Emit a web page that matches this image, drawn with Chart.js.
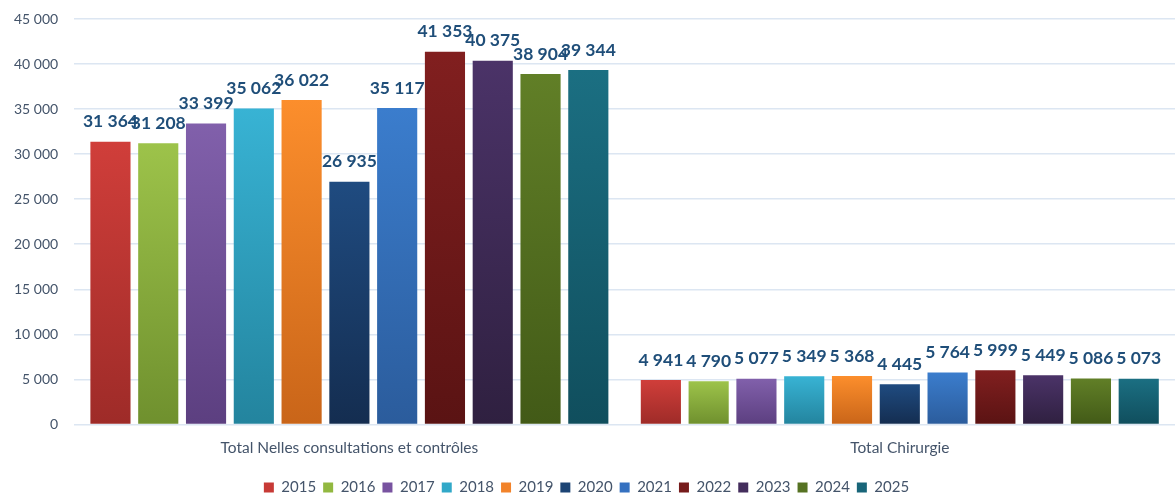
<!DOCTYPE html>
<html>
<head>
<meta charset="utf-8">
<script src="https://cdn.jsdelivr.net/npm/chart.js@4/dist/chart.umd.min.js"></script>
<style>
html,body{margin:0;padding:0;background:#fff;}
#wrap{width:1175px;height:495px;position:relative;}
</style>
</head>
<body>
<div id="wrap"><canvas id="c" width="1175" height="495"></canvas></div>
<script>
const categories = ["Total Nelles consultations et contrôles", "Total Chirurgie"];
const years = ["2015","2016","2017","2018","2019","2020","2021","2022","2023","2024","2025"];
const v2015 = [31364, 4941];
const v2016 = [31208, 4790];
const v2017 = [33399, 5077];
const v2018 = [35062, 5349];
const v2019 = [36022, 5368];
const v2020 = [26935, 4445];
const v2021 = [35117, 5764];
const v2022 = [41353, 5999];
const v2023 = [40375, 5449];
const v2024 = [38904, 5086];
const v2025 = [39344, 5073];
const yTicks = [0,5000,10000,15000,20000,25000,30000,35000,40000,45000];

const seriesValues = [v2015,v2016,v2017,v2018,v2019,v2020,v2021,v2022,v2023,v2024,v2025];
const topColors = ["#D03E3A","#9DC34A","#8160AB","#38B3D4","#FC8E2C","#1F4B80","#3B7DCD","#811F1F","#4B3368","#617F27","#1B6F82"];
const bottomColors = ["#9E2B28","#6F902E","#5C3F80","#23849E","#C96519","#142D50","#2B5C9C","#5A1313","#2F2040","#425A17","#104E5D"];
const legendColors = ["#C73A36","#92B840","#7853A0","#31A8C8","#F2832A","#1C4474","#3571C0","#761B1B","#432D5C","#567222","#186579"];

function fmt(v){ return String(v).replace(/\B(?=(\d{3})+(?!\d))/g, " "); }

const datasets = years.map((y,i)=>({
  label: y,
  data: seriesValues[i],
  backgroundColor: (ctx)=>{
    const chart = ctx.chart;
    if(!chart.chartArea || ctx.type !== 'data') return topColors[i];
    const ys = chart.scales.y;
    const top = ys.getPixelForValue(ctx.raw);
    const base = ys.getPixelForValue(0);
    const g = chart.ctx.createLinearGradient(0, top, 0, base);
    g.addColorStop(0, topColors[i]);
    g.addColorStop(1, bottomColors[i]);
    return g;
  },
  borderWidth: 0,
  categoryPercentage: 0.955,
  barPercentage: 0.84
}));

const labelPlugin = {
  id: 'valueLabels',
  afterDatasetsDraw(chart){
    const c = chart.ctx;
    c.save();
    c.font = "bold 17.5px Lato";
    c.fillStyle = "#1F4E79";
    c.textAlign = "center";
    c.textBaseline = "middle";
    chart.data.datasets.forEach((ds, di)=>{
      const meta = chart.getDatasetMeta(di);
      meta.data.forEach((bar, idx)=>{
        c.fillText(fmt(ds.data[idx]), bar.x, bar.y - 20);
      });
    });
    c.restore();
  }
};

const legendShift = {
  id: 'legendShift',
  afterLayout(chart){
    if(chart.legend){ chart.legend.top += 10; chart.legend.bottom += 10; }
  }
};

new Chart(document.getElementById('c'), {
  type: 'bar',
  data: { labels: categories, datasets },
  options: {
    responsive: false,
    animation: false,
    layout: { padding: { top: 19, right: 0, left: -2, bottom: 0 } },
    scales: {
      x: {
        grid: { display: false },
        border: { display: false },
        ticks: { color: "#44546A", font: { family: "Lato", size: 15.5 }, padding: 6 }
      },
      y: {
        min: 0, max: 45000,
        afterBuildTicks(axis){ axis.ticks = yTicks.map(v=>({value:v})); },
        afterFit(axis){ axis.paddingTop = 0; },
        grid: { color: "#DCE6F2", lineWidth: 1.5, drawTicks: false },
        border: { display: false },
        ticks: { color: "#44546A", font: { family: "Lato", size: 14 }, padding: 16, callback: (v)=>fmt(v) }
      }
    },
    plugins: {
      legend: {
        position: 'bottom',
        labels: {
          color: "#44546A",
          font: { family: "Lato", size: 15 },
          boxWidth: 10, boxHeight: 10, padding: 7,
          generateLabels(chart){
            return years.map((y,i)=>({ text: y, fillStyle: legendColors[i], strokeStyle: legendColors[i], lineWidth: 0, datasetIndex: i, fontColor: "#44546A" }));
          }
        }
      },
      tooltip: { enabled: false }
    }
  },
  plugins: [labelPlugin, legendShift]
});
</script>
</body>
</html>
